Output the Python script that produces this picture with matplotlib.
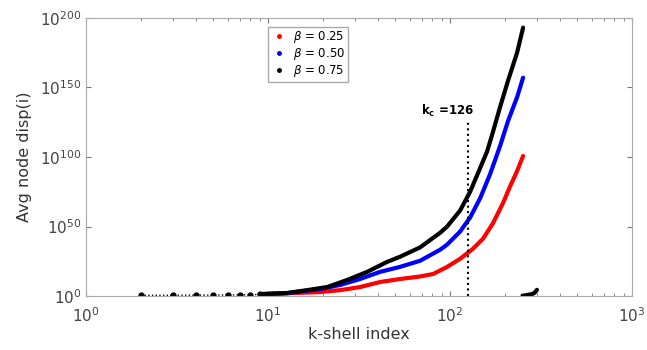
import numpy as np
import matplotlib
matplotlib.use("Agg")
import matplotlib.pyplot as plt
from matplotlib.ticker import FixedLocator, NullLocator

# left part: separate dots at small k-shell index (all three betas overlap)
k_dots = [2, 3, 4, 5, 6, 7, 8, 9]
exp_dots = [0.6, 0.6, 0.7, 0.7, 0.8, 0.9, 1.0, 1.2]

# curves: k-shell index and log10(avg node disp)
k_b025 = [9, 12.7, 19.3, 24.9, 32.0, 41.2, 53.1, 68.4, 80.7, 96.3, 113.5, 133.7, 151.8, 172.2, 195.5, 213.8, 233.4, 251.8]
e_b025 = [1.3, 2.0, 2.9, 4.3, 6.5, 10.1, 12.3, 14.1, 15.9, 21.0, 26.8, 34.1, 41.3, 52.5, 67.0, 79.0, 89.9, 100.7]

k_b050 = [9, 12.7, 19.3, 24.9, 32.0, 41.2, 53.1, 68.4, 88.1, 96.3, 113.5, 128.8, 146.2, 165.9, 188.3, 208.3, 233.4, 251.8]
e_b050 = [1.4, 2.1, 5.1, 8.0, 12.3, 17.4, 21.0, 25.4, 33.3, 37.0, 46.4, 56.5, 70.3, 87.7, 108, 126, 143, 157]

k_b075 = [9, 12.7, 16.4, 21.1, 27.2, 35.0, 45.1, 53.1, 68.4, 88.1, 96.3, 113.5, 128.8, 146.2, 159.7, 170.2, 188.3, 208.3, 233.4, 251.8]
e_b075 = [1.4, 2.2, 4.3, 6.5, 11.6, 17.4, 24.6, 28.3, 35.0, 45.5, 50.0, 61.5, 75.0, 92.0, 104, 116, 136, 155, 175, 193]

# the little black hook past the end of the curves
k_tail = [250, 258, 266, 275, 284, 292, 300]
exp_tail = [0.3, 0.5, 0.8, 1.2, 1.6, 2.5, 4.5]

k_c = 126
k_c_top = 126  # exponent where the dotted line stops

fig = plt.figure(figsize=(6.47, 3.5), dpi=100)
ax = fig.add_axes([0.133, 0.154, 0.844, 0.795])

series = [(k_b025, e_b025, 'red', r'$\beta$ = 0.25'),
          (k_b050, e_b050, 'blue', r'$\beta$ = 0.50'),
          (k_b075, e_b075, 'black', r'$\beta$ = 0.75')]
for kk, ee, c, lab in series:
    ax.plot(kk, 10.0 ** np.array(ee), '-', color=c, lw=3,
            solid_capstyle='round', solid_joinstyle='round')
    ax.plot([], [], '.', color=c, ms=5, label=lab)

ax.plot(k_dots + [9.5], 10.0 ** np.array(exp_dots + [1.3]), ':', color='black',
        lw=1, marker='.', ms=7, markevery=list(range(len(k_dots))))
ax.plot(k_tail, 10.0 ** np.array(exp_tail), '-', color='black', lw=3,
        solid_capstyle='round')

# k_c marker
ax.plot([k_c, k_c], [1.0, 10.0 ** k_c_top], ':', color='black', lw=1.5)
ax.text(97, 10.0 ** 133, r'$\mathregular{k_c}$ =126', ha='center', va='center',
        fontsize=8.5, fontweight='bold')

ax.set_xscale('log')
ax.set_yscale('log')
ax.set_xlim(1, 1000)
ax.set_ylim(1, 1e200)
ax.yaxis.set_major_locator(FixedLocator([1e0, 1e50, 1e100, 1e150, 1e200]))
ax.yaxis.set_minor_locator(NullLocator())
ax.set_yticklabels([r'$10^{0}$', r'$10^{50}$', r'$10^{100}$', r'$10^{150}$', r'$10^{200}$'])
ax.xaxis.set_major_locator(FixedLocator([1, 10, 100, 1000]))
ax.set_xticklabels([r'$10^{0}$', r'$10^{1}$', r'$10^{2}$', r'$10^{3}$'])
ax.tick_params(which='both', direction='in', top=True, right=True, labelsize=11,
               colors='#777777', labelcolor='#444444')
ax.tick_params(axis='x', which='major', pad=7)
ax.tick_params(which='minor', length=2)
for sp in ax.spines.values():
    sp.set_color('#aaaaaa')

ax.set_xlabel('k-shell index', fontsize=11.5, color='#333333', labelpad=2)
ax.set_ylabel('Avg node disp(i)', fontsize=11.5, color='#333333', labelpad=6)

ax.legend(loc='upper left', bbox_to_anchor=(0.322, 0.99), fontsize=8.5,
          handlelength=1.4, handletextpad=0.5, borderpad=0.25, labelspacing=0.05,
          fancybox=False, edgecolor='#aaaaaa', framealpha=1)

fig.savefig('out.png', dpi=100)
